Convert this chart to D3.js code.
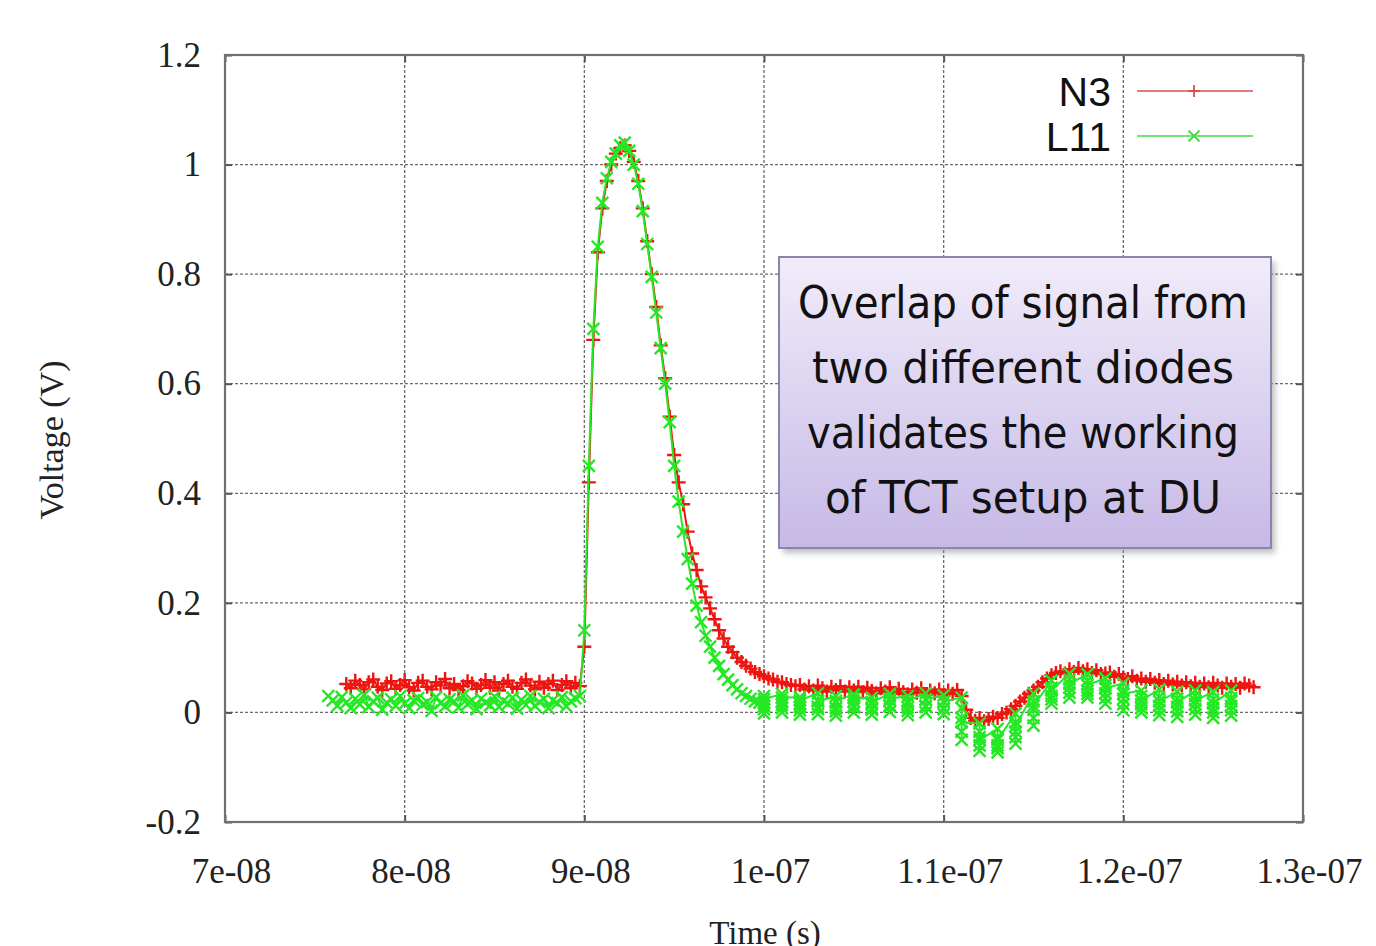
<!DOCTYPE html>
<html>
<head>
<meta charset="utf-8">
<script src="https://cdn.jsdelivr.net/npm/d3@7"></script>
<style>
  html, body { margin: 0; padding: 0; background: #fff; }
  svg { display: block; }
</style>
</head>
<body>
<svg width="1376" height="946"></svg>
<script>

// tick values and labels
var xTicks = [7e-8, 8e-8, 9e-8, 1e-7, 1.1e-7, 1.2e-7, 1.3e-7];
var xTickLabels = ["7e-08", "8e-08", "9e-08", "1e-07", "1.1e-07", "1.2e-07", "1.3e-07"];
var yTicks = [-0.2, 0, 0.2, 0.4, 0.6, 0.8, 1, 1.2];
var yTickLabels = ["-0.2", "0", "0.2", "0.4", "0.6", "0.8", "1", "1.2"];

// N3: sampled every 0.25 ns starting 76.75 ns
var n3Start = 76.75;
var n3Step = 0.25;
var n3Volt = [
  0.052,0.044,0.058,0.05,0.042,0.055,0.06,0.047,0.041,0.053,
  0.057,0.043,0.05,0.059,0.046,0.04,0.054,0.058,0.047,0.042,
  0.055,0.049,0.061,0.044,0.052,0.041,0.048,0.057,0.053,0.043,
  0.05,0.059,0.045,0.055,0.04,0.052,0.058,0.047,0.043,0.054,
  0.06,0.049,0.042,0.056,0.045,0.052,0.058,0.041,0.05,0.057,
  0.044,0.054,0.048,
  0.12,0.42,0.68,0.84,0.92,0.97,1.0,1.02,1.03,1.035,
  1.025,1.005,0.97,0.92,0.86,0.80,0.74,0.67,0.61,0.54,
  0.47,0.42,0.38,0.33,0.29,0.26,0.23,0.21,0.19,0.17,
  0.15,0.135,0.12,0.11,0.1,0.092,0.085,0.08,0.074,0.07,
  0.066,0.062,0.06,0.056,0.055,0.052,0.05,0.048,
  0.05,0.042,0.048,0.04,0.049,0.044,0.038,0.047,0.041,0.048,
  0.038,0.046,0.04,0.047,0.037,0.045,0.039,0.035,0.044,0.038,
  0.046,0.034,0.043,0.037,0.033,0.042,0.036,0.044,0.032,0.04,
  0.035,0.042,0.031,0.04,0.034,0.041,
  0.03,0.005,-0.01,-0.015,-0.01,-0.016,-0.012,-0.008,-0.01,-0.003,
  0.0,0.006,0.012,0.02,0.027,0.034,0.04,0.047,0.055,0.062,
  0.068,0.072,0.075,0.071,0.079,0.074,0.081,0.075,0.079,0.072,
  0.077,0.07,0.071,0.073,0.065,0.07,0.063,0.061,0.066,0.058,
  0.062,0.056,0.061,0.054,0.059,0.052,0.058,0.051,0.056,0.049,
  0.055,0.048,0.054,0.047,0.053,0.046,0.054,0.049,0.045,0.053,
  0.047,0.052,0.045,0.053,0.049,0.046
];

// L11: sampled every 0.25 ns from 75.75 ns up to 99.75 ns
var l11Start = 75.75;
var l11Step = 0.25;
var l11Volt = [
  0.03,0.022,0.012,0.028,0.018,0.008,0.025,0.015,0.032,0.01,
  0.02,0.027,0.005,0.018,0.024,0.012,0.03,0.016,0.008,0.022,
  0.026,0.014,0.019,0.003,0.028,0.017,0.011,0.024,0.02,0.009,
  0.031,0.015,0.022,0.006,0.025,0.018,0.013,0.029,0.01,0.021,
  0.016,0.027,0.007,0.023,0.014,0.03,0.012,0.019,0.025,0.008,
  0.022,0.017,0.028,0.011,0.02,0.026,0.03,
  0.15,0.45,0.7,0.85,0.93,0.975,1.005,1.02,1.035,1.04,
  1.025,1.0,0.965,0.915,0.855,0.795,0.73,0.665,0.6,0.53,
  0.45,0.385,0.33,0.28,0.235,0.195,0.165,0.14,0.12,0.1,
  0.085,0.07,0.06,0.05,0.042,0.035,0.03,0.025,0.02,0.018
];
// L11 after 100 ns: times only kept to 1 ns, so samples stack per ns
var l11TailTime = [100,101,102,103,104,105,106,107,108,109,110,111,112,113,
                   114,115,116,117,118,119,120,121,122,123,124,125,126];
var l11TailVolt = [
  [0.03,0.018,0.006,-0.002,0.012,0.024], [0.034,0.02,0.008,0.0,0.014,0.027],
  [0.028,0.016,0.004,-0.004,0.01,0.022], [0.035,0.022,0.01,-0.003,0.006,0.02],
  [0.03,0.018,0.002,-0.006,0.008,0.021], [0.033,0.02,0.009,0.0,0.012,0.026],
  [0.027,0.015,0.005,-0.004,0.007,0.019], [0.034,0.022,0.011,0.001,0.013,0.025],
  [0.03,0.017,0.003,-0.005,0.009,0.021], [0.035,0.023,0.012,0.0,0.01,0.024],
  [0.031,0.019,0.006,-0.003,0.008,0.02], [0.027,0.008,-0.01,-0.05,-0.035,-0.018],
  [-0.02,-0.035,-0.045,-0.07,-0.06,-0.05], [-0.03,-0.045,-0.06,-0.073,-0.065,-0.05],
  [-0.002,-0.018,-0.035,-0.057,-0.045,-0.025], [0.035,0.02,0.005,-0.024,-0.01,0.012],
  [0.058,0.045,0.03,0.016,0.024,0.04], [0.071,0.06,0.045,0.027,0.036,0.052],
  [0.07,0.058,0.04,0.027,0.034,0.05], [0.062,0.05,0.035,0.016,0.026,0.044],
  [0.053,0.04,0.025,0.004,0.015,0.034], [0.04,0.03,0.015,0.0,0.008,0.022],
  [0.042,0.028,0.012,-0.005,0.004,0.02], [0.038,0.025,0.01,-0.008,0.002,0.018],
  [0.04,0.03,0.015,-0.004,0.006,0.022], [0.037,0.024,0.008,-0.01,0.0,0.016],
  [0.04,0.026,0.012,-0.006,0.004,0.02]
];

var noteLines = ["Overlap of signal from", "two different diodes",
                 "validates the working", "of TCT setup at DU"];

// build point lists (seconds, volts)
var n3Data = n3Volt.map(function (v, i) { return [(n3Start + i * n3Step) * 1e-9, v]; });
var l11Data = l11Volt.map(function (v, i) { return [(l11Start + i * l11Step) * 1e-9, v]; });
l11TailTime.forEach(function (t, i) {
    l11TailVolt[i].forEach(function (v) { l11Data.push([t * 1e-9, v]); });
});

var svg = d3.select('svg');
var plotLeft = 225, plotRight = 1303, plotTop = 55, plotBottom = 822;

var x = d3.scaleLinear().domain([7e-8, 1.3e-7]).range([plotLeft, plotRight]);
var y = d3.scaleLinear().domain([-0.2, 1.2]).range([plotBottom, plotTop]);

// grid
var grid = svg.append('g');
grid.selectAll('.gx').data(xTicks.slice(1, -1)).enter().append('line')
    .attr('x1', function (d) { return x(d); }).attr('x2', function (d) { return x(d); })
    .attr('y1', plotTop).attr('y2', plotBottom)
    .attr('stroke', '#6a6a6a').attr('stroke-width', 1.3).attr('stroke-dasharray', '3,2');
grid.selectAll('.gy').data(yTicks.slice(1, -1)).enter().append('line')
    .attr('x1', plotLeft).attr('x2', plotRight)
    .attr('y1', function (d) { return y(d); }).attr('y2', function (d) { return y(d); })
    .attr('stroke', '#6a6a6a').attr('stroke-width', 1.3).attr('stroke-dasharray', '3,2');

// axes
var xAxis = svg.append('g').attr('transform', 'translate(0,' + plotBottom + ')')
    .call(d3.axisBottom(x).tickValues(xTicks).tickSize(-7).tickPadding(36)
        .tickFormat(function (d, i) { return xTickLabels[i]; }));
var yAxis = svg.append('g').attr('transform', 'translate(' + plotLeft + ',0)')
    .call(d3.axisLeft(y).tickValues(yTicks).tickSize(-7).tickPadding(24)
        .tickFormat(function (d, i) { return yTickLabels[i]; }));
svg.append('g').attr('transform', 'translate(0,' + plotTop + ')')
    .call(d3.axisTop(x).tickValues(xTicks).tickSize(-7).tickFormat(''));
svg.append('g').attr('transform', 'translate(' + plotRight + ',0)')
    .call(d3.axisRight(y).tickValues(yTicks).tickSize(-7).tickFormat(''));

svg.selectAll('.domain').remove();
svg.selectAll('.tick line').attr('stroke', '#555').attr('stroke-width', 2);
svg.selectAll('.tick text')
    .attr('font-family', '"Liberation Serif", "Times New Roman", serif')
    .attr('font-size', 35).attr('fill', '#222');
xAxis.selectAll('.tick text').attr('dx', 6);

svg.append('rect').attr('x', plotLeft).attr('y', plotTop)
    .attr('width', plotRight - plotLeft).attr('height', plotBottom - plotTop)
    .attr('fill', 'none').attr('stroke', '#707070').attr('stroke-width', 2.2);

// axis titles (the reference crops this one at the bottom edge)
svg.append('text').attr('x', 765).attr('y', 944).attr('text-anchor', 'middle')
    .attr('font-family', '"Liberation Serif", serif').attr('font-size', 33).attr('fill', '#222')
    .text('Time (s)');
svg.append('text').attr('transform', 'translate(63,440) rotate(-90)').attr('text-anchor', 'middle')
    .attr('font-family', '"Liberation Serif", serif').attr('font-size', 34).attr('fill', '#222')
    .text('Voltage (V)');

// series
var line = d3.line().x(function (d) { return x(d[0]); }).y(function (d) { return y(d[1]); });
var plus = function (s) { return 'M' + (-s) + ',0H' + s + 'M0,' + (-s) + 'V' + s; };
var cross = function (s) { return 'M' + (-s) + ',' + (-s) + 'L' + s + ',' + s + 'M' + (-s) + ',' + s + 'L' + s + ',' + (-s); };

function drawSeries(data, color, marker) {
    var g = svg.append('g');
    g.append('path').datum(data).attr('d', line)
        .attr('fill', 'none').attr('stroke', color).attr('stroke-width', 2);
    g.selectAll('path.m').data(data).enter().append('path')
        .attr('class', 'm')
        .attr('transform', function (d) { return 'translate(' + x(d[0]) + ',' + y(d[1]) + ')'; })
        .attr('d', marker)
        .attr('fill', 'none').attr('stroke', color).attr('stroke-width', 2.4);
}
drawSeries(n3Data, '#ee1510', plus(7));
drawSeries(l11Data, '#25e825', cross(6));

// legend
var legend = [["N3", '#d85050', plus(6), 91], ["L11", '#45d845', cross(5.5), 136]];
legend.forEach(function (l) {
    svg.append('text').attr('x', 1111).attr('y', l[3] + 15).attr('text-anchor', 'end')
        .attr('font-family', '"Liberation Sans", Arial, sans-serif').attr('font-size', 41)
        .attr('fill', '#111').text(l[0]);
    svg.append('line').attr('x1', 1137).attr('x2', 1253).attr('y1', l[3]).attr('y2', l[3])
        .attr('stroke', l[1]).attr('stroke-width', 1.6);
    svg.append('path').attr('transform', 'translate(1194,' + l[3] + ')').attr('d', l[2])
        .attr('fill', 'none').attr('stroke', l[1]).attr('stroke-width', 1.8);
});

// note box
var defs = svg.append('defs');
var grad = defs.append('linearGradient').attr('id', 'boxfill').attr('x1', 0).attr('y1', 0).attr('x2', 0).attr('y2', 1);
grad.append('stop').attr('offset', '0%').attr('stop-color', '#f1ecfa');
grad.append('stop').attr('offset', '100%').attr('stop-color', '#c6b9e6');
defs.append('filter').attr('id', 'blur').append('feGaussianBlur').attr('stdDeviation', 3);

svg.append('rect').attr('x', 783).attr('y', 262).attr('width', 492).attr('height', 291)
    .attr('fill', '#888').attr('opacity', 0.55).attr('filter', 'url(#blur)');
svg.append('rect').attr('x', 779).attr('y', 257).attr('width', 492).attr('height', 291)
    .attr('fill', 'url(#boxfill)').attr('stroke', '#8d84ad').attr('stroke-width', 2);

var noteWidths = [450, 422, 432, 396];
noteLines.forEach(function (t, i) {
    svg.append('text').attr('x', 1023).attr('y', 318 + i * 65).attr('text-anchor', 'middle')
        .attr('font-family', '"Comic Sans MS", "DejaVu Sans", sans-serif').attr('font-size', 44)
        .attr('textLength', noteWidths[i]).attr('lengthAdjust', 'spacingAndGlyphs')
        .attr('fill', '#111').text(t);
});

</script>
</body>
</html>
